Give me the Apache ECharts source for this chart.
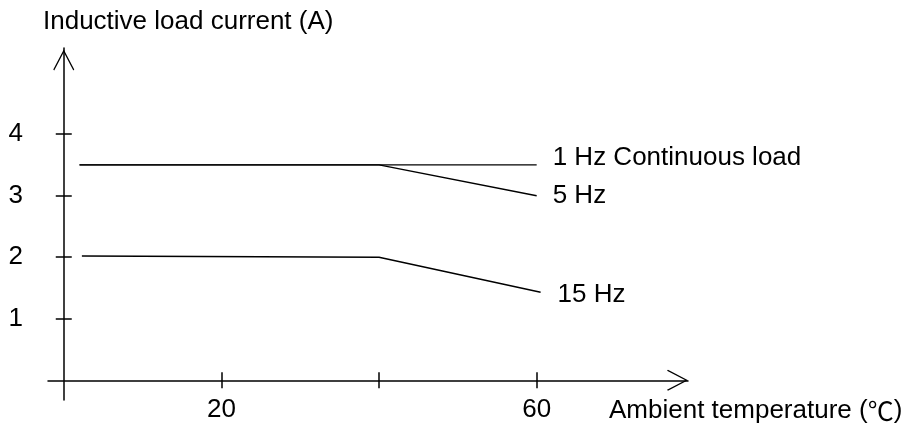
<!DOCTYPE html>
<html>
<head>
<meta charset="utf-8">
<script src="https://cdn.jsdelivr.net/npm/echarts@6/dist/echarts.min.js"></script>
<style>
html,body{margin:0;padding:0;background:#fff;}
#chart{width:918px;height:425px;}
</style>
</head>
<body>
<div id="chart"></div>
<script>
// ---- data ----
const xTickValues = [20, 40, 60];
const xLabelValues = [20, 60];
const yTickValues = [1, 2, 3, 4];
const yLabelValues = [1, 2, 3, 4];
const seriesNames = ['1 Hz Continuous load', '5 Hz', '15 Hz'];
const hz1 = [[2, 3.5], [60, 3.5]];
const hz5 = [[2, 3.5], [40, 3.5], [60, 3.0]];
const hz15 = [[2.3, 2.02], [40, 2.0], [60.5, 1.43]];
const yTitle = 'Inductive load current (A)';
const xTitle = 'Ambient temperature ({c|\u2103})';

// ---- chart ----
const FONT = '"Liberation Sans", Arial, Helvetica, sans-serif';
const FS = 26;
const chevron = 'path://M11,0 L22,21 L21,22 L11,2.8 L1,22 L0,21 Z';
const xMin = -2, xMax = 79.2, yMin = -0.32, yMax = 5.4;

function mkX(main) {
  return {
    type: 'value', min: xMin, max: xMax, position: 'bottom',
    axisLine: {
      show: main, onZero: true, onZeroAxisIndex: main ? 0 : 1,
      lineStyle: {color: '#000', width: 1.5},
      symbol: ['none', chevron], symbolSize: [22, 21], symbolOffset: [0, -10.5]
    },
    axisTick: {show: true, inside: !main, length: 8, customValues: xTickValues,
      lineStyle: {color: '#000', width: 1.5}},
    axisLabel: {show: main, customValues: xLabelValues, margin: -3,
      color: '#000', fontSize: FS, fontFamily: FONT},
    splitLine: {show: false}
  };
}
function mkY(main) {
  return {
    type: 'value', min: yMin, max: yMax, position: 'left',
    axisLine: {
      show: main, onZero: true, onZeroAxisIndex: main ? 0 : 1,
      lineStyle: {color: '#000', width: 1.5},
      symbol: ['none', chevron], symbolSize: [21, 24], symbolOffset: [0, -12]
    },
    axisTick: {show: true, inside: !main, length: 8, customValues: yTickValues,
      lineStyle: {color: '#000', width: 1.5}},
    axisLabel: {show: main, customValues: yLabelValues, margin: 25,
      color: '#000', fontSize: FS, fontFamily: FONT},
    splitLine: {show: false}
  };
}
function mkSeries(name, data, dist, off) {
  return {
    type: 'line', name: name, data: data, xAxisIndex: 0, yAxisIndex: 0,
    showSymbol: false, symbol: 'none', animation: false, silent: true,
    lineStyle: {color: '#000', width: 1.4},
    endLabel: {show: true, formatter: name, distance: dist, offset: off,
      color: '#000', fontSize: FS, fontFamily: FONT}
  };
}

const chart = echarts.init(document.getElementById('chart'), null, {renderer: 'canvas'});
chart.setOption({
  animation: false,
  backgroundColor: '#fff',
  title: [
    {text: yTitle, left: 43, top: 9, padding: 0,
      textStyle: {color: '#000', fontSize: FS, fontWeight: 'normal', fontFamily: FONT}},
    {text: xTitle, left: 609, top: 398, padding: 0,
      textStyle: {color: '#000', fontSize: FS, fontWeight: 'normal', fontFamily: FONT,
        rich: {c: {color: '#000', fontSize: FS, fontFamily: '"Noto Sans CJK JP", "Noto Sans CJK SC", sans-serif'}}}}
  ],
  grid: {left: 48, top: 48, width: 640, height: 352, containLabel: false, outerBoundsMode: 'none'},
  xAxis: [mkX(true), mkX(false)],
  yAxis: [mkY(true), mkY(false)],
  series: [
    mkSeries(seriesNames[0], hz1, 16, [0, -7]),
    mkSeries(seriesNames[1], hz5, 16, [0, 0]),
    mkSeries(seriesNames[2], hz15, 17, [0, 3])
  ]
});
</script>
</body>
</html>
